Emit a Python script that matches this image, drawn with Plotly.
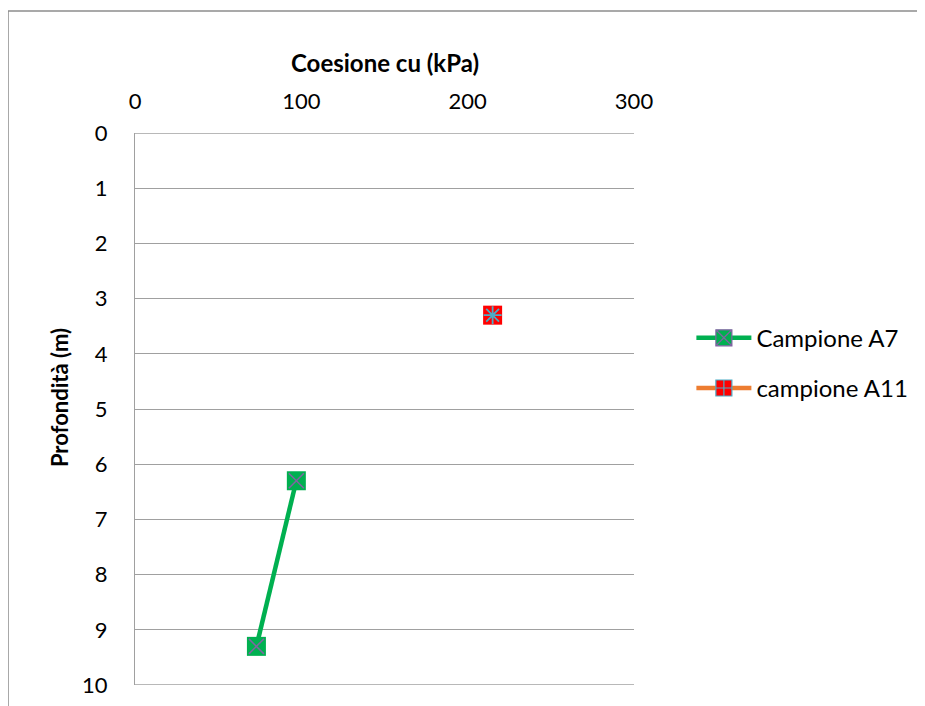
import plotly.graph_objects as go

# Data
a7_cu = [97, 73]
a7_depth = [6.3, 9.3]
a11_cu = [215]
a11_depth = [3.3]
x_ticks = [0, 100, 200, 300]
y_ticks = list(range(0, 11))

FONT = "Lato, Calibri, sans-serif"
GREEN = "#00b050"
ORANGE = "#ed7d31"
PURPLE = "#8064a2"
RED = "#ff0000"
BLUE = "#4bacc6"
GRID = "#a0a0a0"

fig = go.Figure()

# plotted series (no legend)
fig.add_trace(go.Scatter(
    x=a7_cu, y=a7_depth, mode="lines+markers", showlegend=False,
    line=dict(color=GREEN, width=4.5),
    marker=dict(symbol="square", size=19, color=GREEN, line=dict(width=0)),
))
fig.add_trace(go.Scatter(
    x=a7_cu, y=a7_depth, mode="markers", showlegend=False,
    marker=dict(symbol="x-thin-open", size=15, color=PURPLE, line=dict(width=1.5, color=PURPLE)),
))
fig.add_trace(go.Scatter(
    x=a11_cu, y=a11_depth, mode="lines+markers", showlegend=False,
    line=dict(color=ORANGE, width=4.5),
    marker=dict(symbol="square", size=19, color=RED, line=dict(width=0)),
))
fig.add_trace(go.Scatter(
    x=a11_cu, y=a11_depth, mode="markers", showlegend=False,
    marker=dict(symbol="asterisk-open", size=15, color=BLUE, line=dict(width=1.8, color=BLUE)),
))

# legend entries
fig.add_trace(go.Scatter(
    x=[None], y=[None], mode="lines+markers", name="Campione A7", legendgroup="a7",
    line=dict(color=GREEN, width=4.5),
    marker=dict(symbol="square-x", size=16, color=GREEN, line=dict(width=1.2, color=PURPLE)),
))
fig.add_trace(go.Scatter(
    x=[None], y=[None], mode="lines+markers", name="campione A11", legendgroup="a11",
    line=dict(color=ORANGE, width=4.5),
    marker=dict(symbol="square-cross", size=16, color=RED, line=dict(width=1.2, color=BLUE)),
))

fig.update_layout(
    width=917, height=698,
    margin=dict(l=127, r=291, t=125, b=21),
    paper_bgcolor="white", plot_bgcolor="white",
    font=dict(family=FONT, size=22, color="black"),
    showlegend=True,
    legend=dict(x=1.115, y=0.583, xanchor="left", yanchor="middle",
                font=dict(size=24), tracegroupgap=16, traceorder="grouped",
                itemwidth=55, bgcolor="rgba(0,0,0,0)"),
    xaxis=dict(range=[0, 300], side="top", tickvals=x_ticks, showgrid=False,
               zeroline=False, showline=False, ticks="", ticklabelstandoff=19,
               fixedrange=True, automargin=False),
    yaxis=dict(range=[10, 0], tickvals=y_ticks, showgrid=True, gridcolor=GRID,
               gridwidth=1.3, zeroline=False, showline=True, linecolor=GRID,
               linewidth=1.3, ticks="", ticklabelstandoff=22, fixedrange=True,
               automargin=False),
    annotations=[
        dict(text="<b>Coesione cu (kPa)</b>", xref="paper", yref="paper",
             x=0.5, y=1.1286, xanchor="center", yanchor="middle", showarrow=False,
             font=dict(size=24)),
        dict(text="<b>Profondità (m)</b>", xref="paper", yref="paper",
             x=-0.150, y=0.52, xanchor="center", yanchor="middle", showarrow=False,
             textangle=-90, font=dict(size=22)),
    ],
    shapes=[
        dict(type="line", xref="paper", yref="y", x0=0, x1=1, y0=0, y1=0,
             line=dict(color=GRID, width=1.3), layer="below"),
        dict(type="line", xref="paper", yref="y", x0=0, x1=1, y0=10, y1=10,
             line=dict(color=GRID, width=1.3), layer="below"),
        dict(type="line", xref="paper", yref="paper", x0=-0.2545, x1=1.6,
             y0=1.221, y1=1.221, line=dict(color="#8c8c8c", width=1.5)),
        dict(type="line", xref="paper", yref="paper", x0=-0.2545, x1=-0.2545,
             y0=1.221, y1=-0.1, line=dict(color="#8c8c8c", width=1.5)),
    ],
)

fig.write_html("out.html")
